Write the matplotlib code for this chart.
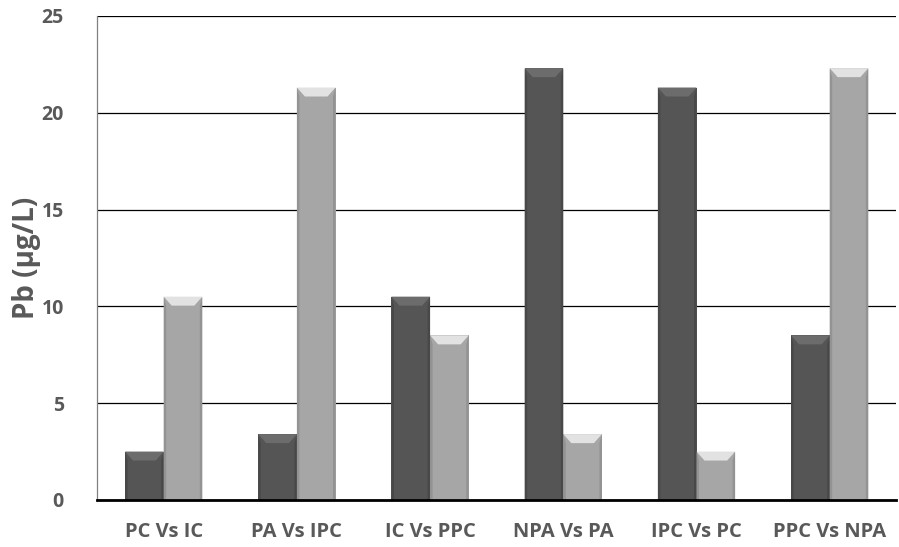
import numpy as np
import matplotlib
matplotlib.use("Agg")
import matplotlib.pyplot as plt
from matplotlib.patches import Polygon

plt.rcParams['font.family'] = ['Open Sans', 'DejaVu Sans']

categories = ["PC Vs IC", "PA Vs IPC", "IC Vs PPC", "NPA Vs PA", "IPC Vs PC", "PPC Vs NPA"]
first_values = [2.5, 3.4, 10.5, 22.3, 21.3, 8.5]
second_values = [10.5, 21.3, 8.5, 3.4, 2.5, 22.3]
y_ticks = [0, 5, 10, 15, 20, 25]

text_color = "#595959"
dark_face = "#555555"
dark_top = "#6c6c6c"
dark_side = "#484848"
light_face = "#a6a6a6"
light_top = "#e2e2e2"
light_side = "#939393"

fig = plt.figure(figsize=(8.99, 5.47), dpi=100)
ax = fig.add_axes([0.108, 0.086, 0.889, 0.885])

x = np.arange(len(categories))
width = 0.29

ax.set_xlim(-0.5, len(categories) - 0.5)
ax.set_ylim(0, 25)

bars1 = ax.bar(x - width / 2, first_values, width, color=dark_face, zorder=3)
bars2 = ax.bar(x + width / 2, second_values, width, color=light_face, zorder=3)


def bevel(bars, top_col, side_col):
    # px -> data conversions for a fixed bevel depth
    inv = ax.transData.inverted()
    p0 = inv.transform((0, 0))
    p1 = inv.transform((8, 9))
    dx = p1[0] - p0[0]
    dy = p1[1] - p0[1]
    sx = inv.transform((2.5, 0))[0] - p0[0]
    for b in bars:
        x0 = b.get_x()
        x1 = x0 + b.get_width()
        h = b.get_height()
        # top bevel band
        ax.add_patch(Polygon([(x0, h), (x1, h), (x1 - dx, h - dy), (x0 + dx, h - dy)],
                             closed=True, color=top_col, lw=0, zorder=4))
        # darker side edges
        ax.add_patch(Polygon([(x0, 0), (x0, h), (x0 + sx, h - dy), (x0 + sx, 0)],
                             closed=True, color=side_col, lw=0, zorder=4))
        ax.add_patch(Polygon([(x1, 0), (x1, h), (x1 - sx, h - dy), (x1 - sx, 0)],
                             closed=True, color=side_col, lw=0, zorder=4))


fig.canvas.draw()
bevel(bars1, dark_top, dark_side)
bevel(bars2, light_top, light_side)

ax.set_yticks(y_ticks)
ax.yaxis.grid(True, color="black", lw=0.9, zorder=0)
ax.set_axisbelow(True)
ax.tick_params(axis="y", length=0, colors=text_color, labelsize=14, pad=24)
for lbl in ax.get_yticklabels():
    lbl.set_fontweight("bold")
ax.set_xticks(x)
ax.set_xticklabels(categories, fontweight="bold", fontsize=14.5, color=text_color)
ax.tick_params(axis="x", length=0, colors=text_color, pad=16)

ax.set_ylabel("Pb (µg/L)", fontsize=20, fontweight="bold", color=text_color, va="center")
ax.yaxis.set_label_coords(-0.088, 0.5)

for s in ["top", "right"]:
    ax.spines[s].set_visible(False)
ax.spines["left"].set_color("#808080")
ax.spines["left"].set_linewidth(0.9)
ax.spines["bottom"].set_color("black")
ax.spines["bottom"].set_linewidth(2)
ax.spines["bottom"].set_zorder(5)

fig.savefig("out.png", dpi=100)
